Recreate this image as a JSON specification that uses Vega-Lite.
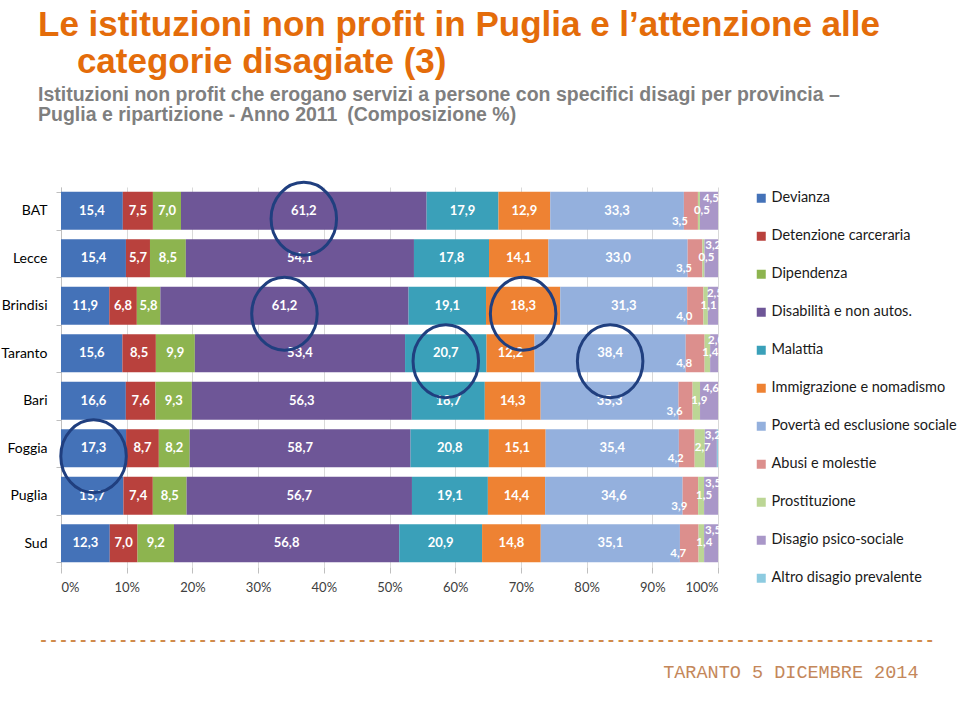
{
  "$schema": "https://vega.github.io/schema/vega-lite/v6.json",
  "width": 657,
  "height": 380,
  "autosize": "none",
  "padding": {"left": 61, "top": 187, "right": 242, "bottom": 140},
  "background": "white",
  "config": {
    "view": {"stroke": null},
    "locale": {"number": {"decimal": ",", "thousands": ".", "grouping": [3], "currency": ["€", ""]}}
  },
  "title": {
    "text": ["Le istituzioni non profit in Puglia e l’attenzione alle", "\u200b\u00a0\u00a0\u00a0\u00a0categorie disagiate (3)"],
    "subtitle": ["Istituzioni non profit che erogano servizi a persone con specifici disagi per provincia –", "Puglia e ripartizione - Anno 2011\u2002(Composizione %)"],
    "anchor": "start",
    "frame": "group",
    "dx": -23,
    "offset": 52,
    "font": "Liberation Sans",
    "fontSize": 35,
    "fontWeight": "bold",
    "color": "#e46c0a",
    "lineHeight": 37,
    "subtitleFont": "Liberation Sans",
    "subtitleFontSize": 19.5,
    "subtitleFontWeight": "bold",
    "subtitleColor": "#7f7f7f",
    "subtitleLineHeight": 20,
    "subtitlePadding": 6
  },
  "data": {
    "values": [
      {"region": "BAT", "cat": "Devianza", "k": 1, "v": 15.4},
      {"region": "BAT", "cat": "Detenzione carceraria", "k": 2, "v": 7.5},
      {"region": "BAT", "cat": "Dipendenza", "k": 3, "v": 7.0},
      {"region": "BAT", "cat": "Disabilità e non autos.", "k": 4, "v": 61.2},
      {"region": "BAT", "cat": "Malattia", "k": 5, "v": 17.9},
      {"region": "BAT", "cat": "Immigrazione e nomadismo", "k": 6, "v": 12.9},
      {"region": "BAT", "cat": "Povertà ed esclusione sociale", "k": 7, "v": 33.3},
      {"region": "BAT", "cat": "Abusi e molestie", "k": 8, "v": 3.5},
      {"region": "BAT", "cat": "Prostituzione", "k": 9, "v": 0.5},
      {"region": "BAT", "cat": "Disagio psico-sociale", "k": 10, "v": 4.5},

      {"region": "Lecce", "cat": "Devianza", "k": 1, "v": 15.4},
      {"region": "Lecce", "cat": "Detenzione carceraria", "k": 2, "v": 5.7},
      {"region": "Lecce", "cat": "Dipendenza", "k": 3, "v": 8.5},
      {"region": "Lecce", "cat": "Disabilità e non autos.", "k": 4, "v": 54.1},
      {"region": "Lecce", "cat": "Malattia", "k": 5, "v": 17.8},
      {"region": "Lecce", "cat": "Immigrazione e nomadismo", "k": 6, "v": 14.1},
      {"region": "Lecce", "cat": "Povertà ed esclusione sociale", "k": 7, "v": 33.0},
      {"region": "Lecce", "cat": "Abusi e molestie", "k": 8, "v": 3.5},
      {"region": "Lecce", "cat": "Prostituzione", "k": 9, "v": 0.5},
      {"region": "Lecce", "cat": "Disagio psico-sociale", "k": 10, "v": 3.2},

      {"region": "Brindisi", "cat": "Devianza", "k": 1, "v": 11.9},
      {"region": "Brindisi", "cat": "Detenzione carceraria", "k": 2, "v": 6.8},
      {"region": "Brindisi", "cat": "Dipendenza", "k": 3, "v": 5.8},
      {"region": "Brindisi", "cat": "Disabilità e non autos.", "k": 4, "v": 61.2},
      {"region": "Brindisi", "cat": "Malattia", "k": 5, "v": 19.1},
      {"region": "Brindisi", "cat": "Immigrazione e nomadismo", "k": 6, "v": 18.3},
      {"region": "Brindisi", "cat": "Povertà ed esclusione sociale", "k": 7, "v": 31.3},
      {"region": "Brindisi", "cat": "Abusi e molestie", "k": 8, "v": 4.0},
      {"region": "Brindisi", "cat": "Prostituzione", "k": 9, "v": 1.1},
      {"region": "Brindisi", "cat": "Disagio psico-sociale", "k": 10, "v": 2.5},

      {"region": "Taranto", "cat": "Devianza", "k": 1, "v": 15.6},
      {"region": "Taranto", "cat": "Detenzione carceraria", "k": 2, "v": 8.5},
      {"region": "Taranto", "cat": "Dipendenza", "k": 3, "v": 9.9},
      {"region": "Taranto", "cat": "Disabilità e non autos.", "k": 4, "v": 53.4},
      {"region": "Taranto", "cat": "Malattia", "k": 5, "v": 20.7},
      {"region": "Taranto", "cat": "Immigrazione e nomadismo", "k": 6, "v": 12.2},
      {"region": "Taranto", "cat": "Povertà ed esclusione sociale", "k": 7, "v": 38.4},
      {"region": "Taranto", "cat": "Abusi e molestie", "k": 8, "v": 4.8},
      {"region": "Taranto", "cat": "Prostituzione", "k": 9, "v": 1.4},
      {"region": "Taranto", "cat": "Disagio psico-sociale", "k": 10, "v": 2.0},

      {"region": "Bari", "cat": "Devianza", "k": 1, "v": 16.6},
      {"region": "Bari", "cat": "Detenzione carceraria", "k": 2, "v": 7.6},
      {"region": "Bari", "cat": "Dipendenza", "k": 3, "v": 9.3},
      {"region": "Bari", "cat": "Disabilità e non autos.", "k": 4, "v": 56.3},
      {"region": "Bari", "cat": "Malattia", "k": 5, "v": 18.7},
      {"region": "Bari", "cat": "Immigrazione e nomadismo", "k": 6, "v": 14.3},
      {"region": "Bari", "cat": "Povertà ed esclusione sociale", "k": 7, "v": 35.3},
      {"region": "Bari", "cat": "Abusi e molestie", "k": 8, "v": 3.6},
      {"region": "Bari", "cat": "Prostituzione", "k": 9, "v": 1.9},
      {"region": "Bari", "cat": "Disagio psico-sociale", "k": 10, "v": 4.6},

      {"region": "Foggia", "cat": "Devianza", "k": 1, "v": 17.3},
      {"region": "Foggia", "cat": "Detenzione carceraria", "k": 2, "v": 8.7},
      {"region": "Foggia", "cat": "Dipendenza", "k": 3, "v": 8.2},
      {"region": "Foggia", "cat": "Disabilità e non autos.", "k": 4, "v": 58.7},
      {"region": "Foggia", "cat": "Malattia", "k": 5, "v": 20.8},
      {"region": "Foggia", "cat": "Immigrazione e nomadismo", "k": 6, "v": 15.1},
      {"region": "Foggia", "cat": "Povertà ed esclusione sociale", "k": 7, "v": 35.4},
      {"region": "Foggia", "cat": "Abusi e molestie", "k": 8, "v": 4.2},
      {"region": "Foggia", "cat": "Prostituzione", "k": 9, "v": 2.7},
      {"region": "Foggia", "cat": "Disagio psico-sociale", "k": 10, "v": 3.2},
      {"region": "Foggia", "cat": "Altro disagio prevalente", "k": 11, "v": 0.3},

      {"region": "Puglia", "cat": "Devianza", "k": 1, "v": 15.7},
      {"region": "Puglia", "cat": "Detenzione carceraria", "k": 2, "v": 7.4},
      {"region": "Puglia", "cat": "Dipendenza", "k": 3, "v": 8.5},
      {"region": "Puglia", "cat": "Disabilità e non autos.", "k": 4, "v": 56.7},
      {"region": "Puglia", "cat": "Malattia", "k": 5, "v": 19.1},
      {"region": "Puglia", "cat": "Immigrazione e nomadismo", "k": 6, "v": 14.4},
      {"region": "Puglia", "cat": "Povertà ed esclusione sociale", "k": 7, "v": 34.6},
      {"region": "Puglia", "cat": "Abusi e molestie", "k": 8, "v": 3.9},
      {"region": "Puglia", "cat": "Prostituzione", "k": 9, "v": 1.5},
      {"region": "Puglia", "cat": "Disagio psico-sociale", "k": 10, "v": 3.5},

      {"region": "Sud", "cat": "Devianza", "k": 1, "v": 12.3},
      {"region": "Sud", "cat": "Detenzione carceraria", "k": 2, "v": 7.0},
      {"region": "Sud", "cat": "Dipendenza", "k": 3, "v": 9.2},
      {"region": "Sud", "cat": "Disabilità e non autos.", "k": 4, "v": 56.8},
      {"region": "Sud", "cat": "Malattia", "k": 5, "v": 20.9},
      {"region": "Sud", "cat": "Immigrazione e nomadismo", "k": 6, "v": 14.8},
      {"region": "Sud", "cat": "Povertà ed esclusione sociale", "k": 7, "v": 35.1},
      {"region": "Sud", "cat": "Abusi e molestie", "k": 8, "v": 4.7},
      {"region": "Sud", "cat": "Prostituzione", "k": 9, "v": 1.4},
      {"region": "Sud", "cat": "Disagio psico-sociale", "k": 10, "v": 3.5}
    ]
  },
  "encoding": {
    "y": {
      "field": "region",
      "type": "nominal",
      "sort": ["BAT", "Lecce", "Brindisi", "Taranto", "Bari", "Foggia", "Puglia", "Sud"],
      "scale": {"paddingInner": 0.2, "paddingOuter": 0.1},
      "axis": {
        "title": "------------------------------------------------------------------------------------------",
        "titleAngle": 0,
        "titleX": -23,
        "titleY": 452,
        "titleAlign": "left",
        "titleBaseline": "middle",
        "titleFont": "Liberation Mono",
        "titleFontSize": 16.6,
        "titleFontWeight": "bold",
        "titleColor": "#d08a4a",
        "titleLimit": 2000,
        "domain": true,
        "domainColor": "#bfbfbf",
        "ticks": true,
        "tickBand": "extent",
        "tickSize": 5,
        "tickColor": "#bfbfbf",
        "labelFont": "Lato",
        "labelFontSize": 14,
        "labelColor": "#000000",
        "labelPadding": 9,
        "grid": false
      }
    },
    "x": {
      "field": "v",
      "type": "quantitative",
      "stack": "normalize",
      "axis": {
        "format": ".0%",
        "values": [0, 0.1, 0.2, 0.3, 0.4, 0.5, 0.6, 0.7, 0.8, 0.9, 1],
        "grid": true,
        "gridColor": "#d9d9d9",
        "domain": false,
        "ticks": true,
        "tickColor": "#bfbfbf",
        "tickSize": 6,
        "labelFont": "Lato",
        "labelFontSize": 13,
        "labelColor": "#404040",
        "labelPadding": 8,
        "title": "TARANTO 5 DICEMBRE 2014",
        "titleX": 857,
        "titleY": 110,
        "titleAlign": "right",
        "titleBaseline": "alphabetic",
        "titleFont": "Liberation Mono",
        "titleFontSize": 18.5,
        "titleFontWeight": "normal",
        "titleColor": "#c4875a",
        "titleLimit": 1000
      }
    },
    "detail": {"field": "cat"},
    "order": {"field": "k", "type": "quantitative"}
  },
  "layer": [
    {
      "mark": {"type": "bar"},
      "encoding": {
        "color": {
          "field": "cat",
          "type": "nominal",
          "scale": {
            "domain": ["Devianza", "Detenzione carceraria", "Dipendenza", "Disabilità e non autos.", "Malattia", "Immigrazione e nomadismo", "Povertà ed esclusione sociale", "Abusi e molestie", "Prostituzione", "Disagio psico-sociale", "Altro disagio prevalente"],
            "range": ["#4472b8", "#b9413d", "#8db44f", "#6e5697", "#3aa0b9", "#ee8233", "#94b0dd", "#dc8f8d", "#bcd695", "#a997c8", "#8dcbe0"]
          },
          "legend": {
            "orient": "none",
            "legendX": 693,
            "legendY": 4,
            "title": null,
            "symbolType": "square",
            "symbolSize": 81,
            "symbolStrokeWidth": 0,
            "labelFont": "Lato",
            "labelFontSize": 14.5,
            "labelColor": "#1a1a1a",
            "labelLimit": 300,
            "labelOffset": 3,
            "rowPadding": 23
          }
        }
      }
    },
    {
      "mark": {"type": "text", "color": "white", "font": "Lato", "fontWeight": "bold", "fontSize": 13},
      "encoding": {
        "x": {"field": "v", "type": "quantitative", "stack": "normalize", "bandPosition": 0.5},
        "text": {"condition": {"test": "datum.k <= 7", "field": "v", "type": "quantitative", "format": ".1f"}, "value": ""}
      }
    },
    {
      "mark": {"type": "text", "color": "white", "font": "Lato", "fontWeight": "bold", "fontSize": 11.5, "dx": -11, "dy": 11},
      "encoding": {
        "x": {"field": "v", "type": "quantitative", "stack": "normalize", "bandPosition": 0.5},
        "text": {"condition": {"test": "datum.k == 8", "field": "v", "type": "quantitative", "format": ".1f"}, "value": ""}
      }
    },
    {
      "mark": {"type": "text", "color": "white", "font": "Lato", "fontWeight": "bold", "fontSize": 11.5, "dx": 3, "dy": 0},
      "encoding": {
        "x": {"field": "v", "type": "quantitative", "stack": "normalize", "bandPosition": 0.5},
        "text": {"condition": {"test": "datum.k == 9", "field": "v", "type": "quantitative", "format": ".1f"}, "value": ""}
      }
    },
    {
      "mark": {"type": "text", "color": "white", "font": "Lato", "fontWeight": "bold", "fontSize": 11.5, "dx": 2, "dy": -12},
      "encoding": {
        "x": {"field": "v", "type": "quantitative", "stack": "normalize", "bandPosition": 0.5},
        "text": {"condition": {"test": "datum.k == 10", "field": "v", "type": "quantitative", "format": ".1f"}, "value": ""}
      }
    },
    {
      "mark": {"type": "point", "shape": "M -0.9,0 A 0.9,1 0 1,1 0.9,0 A 0.9,1 0 1,1 -0.9,0 Z", "filled": false, "size": 5300, "color": "#203f7f", "strokeWidth": 3, "yOffset": 8},
      "encoding": {
        "x": {"field": "v", "type": "quantitative", "stack": "normalize", "bandPosition": 0.5},
        "opacity": {
          "condition": {"test": "indexof(['BAT|Disabilità e non autos.', 'Brindisi|Disabilità e non autos.', 'Brindisi|Immigrazione e nomadismo', 'Taranto|Malattia', 'Taranto|Povertà ed esclusione sociale', 'Foggia|Devianza'], datum.region + '|' + datum.cat) >= 0", "value": 1},
          "value": 0
        }
      }
    }
  ]
}
